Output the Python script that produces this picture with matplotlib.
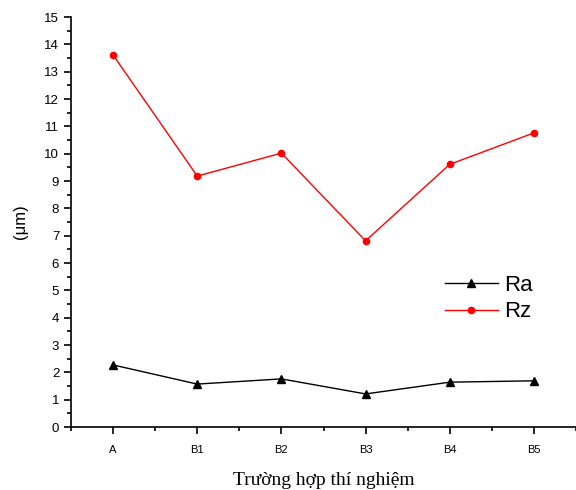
import matplotlib.pyplot as plt
from matplotlib.ticker import MultipleLocator

cases = ['A', 'B1', 'B2', 'B3', 'B4', 'B5']
ra = [2.27, 1.57, 1.76, 1.21, 1.64, 1.69]
rz = [13.61, 9.18, 10.02, 6.81, 9.61, 10.76]

x = list(range(1, len(cases) + 1))

fig = plt.figure(figsize=(5.76, 4.90), dpi=100)
ax = fig.add_axes([71 / 576, 63 / 490, 505 / 576, 410 / 490])

ax.plot(x, ra, color='black', marker='^', markersize=5.5, linewidth=1, label='Ra')
ax.plot(x, rz, color='red', marker='o', markersize=4.5, linewidth=1, label='Rz')

ax.set_xlim(0.5, 6.5)
ax.set_ylim(0, 15)
ax.set_xticks(x)
ax.set_xticklabels(cases, fontsize=8, family='Liberation Sans')
ax.xaxis.set_minor_locator(MultipleLocator(0.5))
ax.yaxis.set_major_locator(MultipleLocator(1))
ax.yaxis.set_minor_locator(MultipleLocator(0.5))
for lab in ax.get_yticklabels():
    lab.set_fontsize(9.5)
    lab.set_family('Liberation Sans')

ax.tick_params(which='major', direction='out', length=5, width=1.2)
ax.tick_params(which='minor', direction='out', length=3, width=1.2)
ax.tick_params(axis='x', pad=8)
ax.spines['top'].set_visible(False)
ax.spines['right'].set_visible(False)
ax.spines['left'].set_linewidth(1.2)
ax.spines['bottom'].set_linewidth(1.2)

ax.set_ylabel('(μm)', fontsize=12, family='Liberation Sans', labelpad=12)
ax.set_xlabel('Trường hợp thí nghiệm', fontsize=14, family='Liberation Serif', labelpad=12)

ax.legend(loc='upper left', bbox_to_anchor=(0.70, 0.42), frameon=False,
          prop={'family': 'Liberation Sans', 'size': 16},
          handlelength=2.4, handletextpad=0.3, labelspacing=0.25)

fig.savefig('out.png', dpi=100)
